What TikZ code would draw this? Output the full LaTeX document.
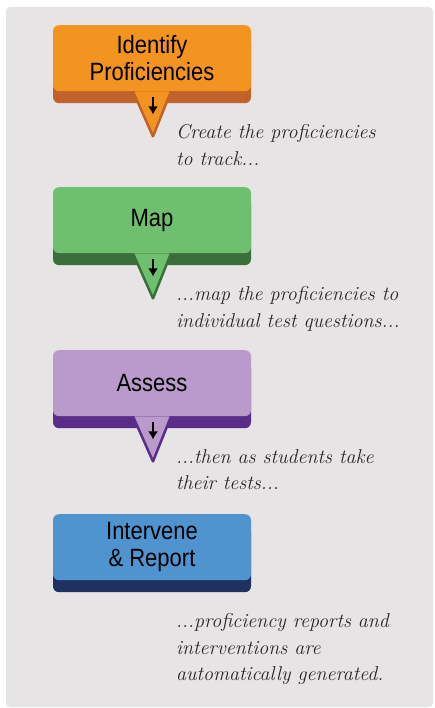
\documentclass[tikz,border=0pt]{standalone}
\usepackage{fontspec}
\usepackage{tikz}
\newfontfamily\stepfont[FakeStretch=0.88]{Liberation Sans}
\usetikzlibrary{positioning, calc, shadows, arrows.meta}
\definecolor{panelGrey}{RGB}{230, 228, 229}
\definecolor{noteGrey}{RGB}{40, 38, 40}
\definecolor{identifyFill}{RGB}{243, 148, 32}
\definecolor{identifyEdge}{RGB}{192, 98, 42}
\definecolor{mapFill}{RGB}{110, 192, 110}
\definecolor{mapEdge}{RGB}{58, 110, 59}
\definecolor{assessFill}{RGB}{185, 154, 203}
\definecolor{assessEdge}{RGB}{91, 45, 138}
\definecolor{reportFill}{RGB}{79, 147, 207}
\definecolor{reportEdge}{RGB}{30, 49, 96}

\begin{document}
\begin{tikzpicture} [
        x=1pt, y=-1pt,
        panel/.style={fill=panelGrey, rounded corners=4pt},
        step box/.style={rectangle, rounded corners=6pt, minimum width=198pt, minimum height=66pt, inner sep=0pt, align=center, anchor=north, font=\stepfont\fontsize{25}{27}\selectfont},
        note/.style={anchor=north west, inner sep=0pt, align=left, text=noteGrey, font=\itshape\fontsize{20}{26.5}\selectfont},
        pointer/.style={line width=2.5pt, line join=round},
        down/.style={-{Latex[length=8pt, width=10pt]}, line width=1.8pt}
    ]

    \useasboundingbox (0,0) rectangle (434,708);
    \fill[panel] (6,7) rectangle (433,707);

    \foreach \name/\label/\top/\fillcol/\edgecol/\note [count=\i] in {
        identify/{Identify\\Proficiencies}/25/identifyFill/identifyEdge/{Create the proficiencies\\to track...},
        map/{Map}/187/mapFill/mapEdge/{...map the proficiencies to\\individual test questions...},
        assess/{Assess}/350/assessFill/assessEdge/{...then as students take\\their tests...},
        report/{Intervene\\\& Report}/514/reportFill/reportEdge/{...proficiency reports and\\interventions are\\automatically generated.}} {
        \node[step box, fill=\fillcol, drop shadow={shadow xshift=0pt, shadow yshift=-12pt, fill=\edgecol, opacity=1}] (\name) at (152,\top) {\label};
        \ifnum\i<4
            \draw[pointer, fill=\fillcol, draw=\edgecol] ($ (\name.south) + (-19,0) $) -- ($ (\name.south) + (1,45) $) -- ($ (\name.south) + (19,0) $);
            \draw[down] ($ (\name.south) + (1,6) $) -- ($ (\name.south) + (1,23) $);
        \fi
        \node[note] (\name note) at ($ (\name.south) + (24,33) $) {\note};
    }

\end{tikzpicture}
\end{document}
